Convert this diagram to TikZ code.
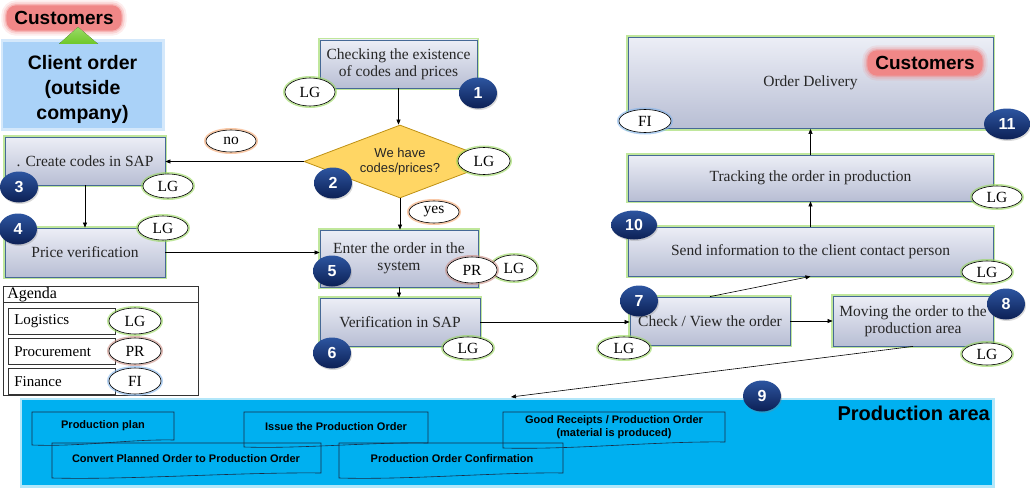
\documentclass[tikz,border=0pt]{standalone}
\usepackage{fontspec}
\setmainfont{Liberation Serif}
\setsansfont{Liberation Sans}
\usetikzlibrary{shapes.geometric,arrows.meta,shadows}
\definecolor{boxtop}{RGB}{236,238,246}
\definecolor{boxbot}{RGB}{184,190,212}
\definecolor{boxborder}{RGB}{70,105,150}
\definecolor{glowgreen}{RGB}{150,215,90}
\definecolor{glowred}{RGB}{200,140,130}
\definecolor{glowblue}{RGB}{130,180,235}
\definecolor{glowora}{RGB}{245,165,110}
\definecolor{badgetop}{RGB}{45,85,160}
\definecolor{badgebot}{RGB}{12,32,85}
\definecolor{custred}{RGB}{240,135,135}
\definecolor{clientblue}{RGB}{170,210,248}
\definecolor{diafill}{RGB}{255,214,100}
\definecolor{diaborder}{RGB}{190,145,20}
\definecolor{prodblue}{RGB}{0,176,240}
\definecolor{prodline}{RGB}{25,45,70}
\definecolor{trigreen}{RGB}{110,200,40}
\begin{document}
\begin{tikzpicture}[x=1pt,y=-1pt,
  proc/.style={rectangle, draw=boxborder, line width=0.8pt, top color=boxtop, bottom color=boxbot,
    preaction={draw=glowgreen, line width=4pt, opacity=0.6},
    font=\fontsize{15.5}{17}\selectfont, text=black!85, align=center, inner sep=2pt},
  badge/.style={ellipse, top color=badgetop, bottom color=badgebot, draw=none, text=white,
    font=\sffamily\bfseries\fontsize{16}{16}\selectfont, minimum width=38pt, minimum height=31pt,
    inner sep=0pt, drop shadow={opacity=0.3, shadow xshift=1pt, shadow yshift=-1.5pt}},
  tag/.style={ellipse, draw=black, line width=0.6pt, fill=white, minimum width=50pt,
    minimum height=24pt, inner sep=0pt, font=\fontsize{15.5}{15.5}\selectfont,
    preaction={draw=#1, line width=4pt, opacity=0.6}},
  tag/.default=glowgreen,
  custglow/.style={fill=custred, rounded corners=10pt, text=black,
    font=\sffamily\bfseries\fontsize{19}{19}\selectfont, inner xsep=8pt, inner ysep=6pt,
    preaction={draw=custred, line width=10pt, opacity=0.15, rounded corners=10pt},
    preaction={draw=custred, line width=6pt, opacity=0.25, rounded corners=10pt},
    preaction={draw=custred, line width=2.5pt, opacity=0.4, rounded corners=10pt}},
  arr/.style={-{Triangle[length=5pt,width=4pt]}, line width=0.6pt, black},
  agrow/.style={draw=black!80, line width=0.6pt, anchor=north west, minimum width=107pt,
    minimum height=26pt, text width=95pt, align=left, inner xsep=6pt, inner ysep=0pt,
    font=\fontsize{15}{15}\selectfont},
  docline/.style={draw=prodline, line width=0.6pt},
  prodtxt/.style={font=\sffamily\bfseries\fontsize{11}{13}\selectfont, align=center, inner sep=0pt}
]
\useasboundingbox (0,0) rectangle (1030,487);

% ---------- left top ----------
\node[rectangle, fill=clientblue, minimum width=159pt, minimum height=86pt,
  preaction={draw=clientblue, line width=5pt, opacity=0.5}] (client) at (82.5,85) {};
\node[font=\sffamily\bfseries\fontsize{19.5}{25}\selectfont, align=center, inner sep=0pt] (clienttxt) at (82.5,89)
  {Client order\\(outside\\company)};
\node[custglow] (cust1) at (64,18) {Customers};
\fill[top color=trigreen!70!white, bottom color=trigreen] (78,27) -- (98,44) -- (59,44) -- cycle;

% ---------- process boxes ----------
\node[proc, minimum width=157pt, minimum height=48pt] (b1) at (398.5,64) {Checking the existence\\of codes and prices};
\node[diamond, aspect=2.6, draw=diaborder, line width=0.8pt, fill=diafill, minimum width=192pt,
  minimum height=73pt, inner sep=0pt, font=\sffamily\fontsize{13}{15}\selectfont, align=center,
  text=black!85] (d2) at (400,161.5) {We have\\codes/prices?};
\node[proc, minimum width=160pt, minimum height=48pt] (b3) at (85,161) {. Create codes in SAP};
\node[proc, minimum width=160pt, minimum height=49pt] (b4) at (85,252.5) {Price verification};
\node[proc, minimum width=158pt, minimum height=57pt] (b5) at (399,258.5) {Enter the order in the\\system};
\node[proc, minimum width=160pt, minimum height=48pt] (b6) at (400,322) {Verification in SAP};
\node[proc, minimum width=160pt, minimum height=48pt] (b7) at (710,321) {Check / View the order};
\node[proc, minimum width=160pt, minimum height=50pt] (b8) at (913,321) {Moving the order to the\\production area};
\node[proc, minimum width=365pt, minimum height=49pt] (b10) at (810.5,251.5) {Send information to the client contact person};
\node[proc, minimum width=365pt, minimum height=46pt] (btrack) at (810.5,178) {Tracking the order in production};
\node[proc, minimum width=365pt, minimum height=91pt] (b11) at (810.5,83) {Order Delivery};

% ---------- production area ----------
\node[rectangle, fill=prodblue, minimum width=970pt, minimum height=85pt,
  preaction={draw=prodblue!30, line width=5pt}] (prod) at (507,442.5) {};
\node[anchor=east, inner sep=0pt, font=\sffamily\bfseries\fontsize{20}{20}\selectfont] (parea) at (990,413) {Production area};
\draw[docline] (32,412) -- (174,412) -- (174,440) .. controls (130,439) and (80,447) .. (32,445) -- cycle;
\draw[docline] (244,412) -- (428,412) -- (428,443) .. controls (370,442) and (300,449) .. (244,447) -- cycle;
\draw[docline] (503,412) -- (725,412) -- (725,442) .. controls (660,441) and (570,450) .. (503,448) -- cycle;
\draw[docline] (52,443) -- (321,443) -- (321,473) .. controls (240,472) and (130,480) .. (52,478) -- cycle;
\draw[docline] (339,443) -- (563,443) -- (563,473) .. controls (500,472) and (410,480) .. (339,478) -- cycle;
\node[prodtxt] (pp) at (103,426) {Production plan};
\node[prodtxt] (ip) at (336,427) {Issue the Production Order};
\node[prodtxt] (gr) at (614,427) {Good Receipts / Production Order\\(material is produced)};
\node[prodtxt] (cp) at (186,459) {Convert Planned Order to Production Order};
\node[prodtxt] (pc) at (452,459) {Production Order Confirmation};
\coordinate (ptarget) at (511,397);

% ---------- connectors ----------
\draw[arr] (b1.south) -- (b1.south |- d2.north);
\draw[arr] (d2.west) -- (d2.west -| b3.east);
\draw[arr] (b3.south) -- (b4.north);
\draw[arr] (b4.east) -- (b4.east -| b5.west);
\draw[arr] (d2.south) -- (d2.south |- b5.north);
\draw[arr] (b5.south) -- (b5.south |- b6.north);
\draw[arr] (b6.east) -- (b6.east -| b7.west);
\draw[arr] (b7.east) -- (b8.west);
\draw[arr] (b7.north) -- (b10.south);
\draw[arr] (b10.north) -- (btrack.south);
\draw[arr] (btrack.north) -- (b11.south);
\draw[arr] (b8.south) -- (ptarget);

% ---------- labels ----------
\node[tag=glowora, minimum height=22pt] (no) at (231,141) {no};
\node[tag=glowora, minimum height=22pt] (yes) at (434,212) {yes};
\node[tag, minimum height=28pt] (lg1) at (310,92) {LG};
\node[tag, minimum width=52pt, minimum height=27pt] (lg2) at (484,161) {LG};
\node[tag] (lg3) at (168,186) {LG};
\node[tag] (lg4) at (163,228) {LG};
\node[tag, minimum width=46pt, minimum height=26pt] (lg5) at (514,268) {LG};
\node[tag=glowred, minimum height=26pt] (pr5) at (472,270) {PR};
\node[tag, minimum height=22pt] (lg6) at (468,348) {LG};
\node[tag, minimum width=52pt, minimum height=22pt] (lg7) at (624,348) {LG};
\node[tag, minimum height=22pt] (lg8) at (987,354) {LG};
\node[tag, minimum height=22pt] (lg10) at (987,272) {LG};
\node[tag, minimum height=22pt] (lgt) at (997,197) {LG};
\node[tag=glowblue, minimum width=52pt, minimum height=23pt] (fi11) at (645,121) {FI};
\node[custglow] (cust2) at (925,63) {Customers};

% ---------- badges ----------
\node[badge] (n1) at (478,93) {1};
\node[badge] (n2) at (333,183) {2};
\node[badge] (n3) at (19,187) {3};
\node[badge] (n4) at (18,229) {4};
\node[badge] (n5) at (332,271) {5};
\node[badge] (n6) at (332,353) {6};
\node[badge] (n7) at (639,301) {7};
\node[badge] (n8) at (1006,304) {8};
\node[badge] (n9) at (762,396) {9};
\node[badge, minimum width=46pt, minimum height=29pt] (n10) at (634,225) {10};
\node[badge, minimum width=46pt] (n11) at (1007,124) {11};

% ---------- agenda ----------
\node[draw=black!80, line width=0.6pt, anchor=north west, minimum width=195pt, minimum height=109pt] (agenda) at (3,286) {};
\node[draw=black!80, line width=0.6pt, anchor=north west, minimum width=195pt, minimum height=16pt,
  text width=187pt, align=left, inner xsep=4pt, inner ysep=0pt, font=\fontsize{16}{16}\selectfont] (aghead) at (3,286) {Agenda};
\node[agrow] (rlg) at (8,308) {Logistics};
\node[agrow] (rpr) at (8,338) {Procurement};
\node[agrow] (rfi) at (8,368) {Finance};
\node[tag, minimum width=52pt, minimum height=26pt] (alg) at (135,321) {LG};
\node[tag=glowred, minimum width=52pt, minimum height=26pt] (apr) at (135,351) {PR};
\node[tag=glowblue, minimum width=52pt, minimum height=26pt] (afi) at (135,381) {FI};
\end{tikzpicture}
\end{document}
